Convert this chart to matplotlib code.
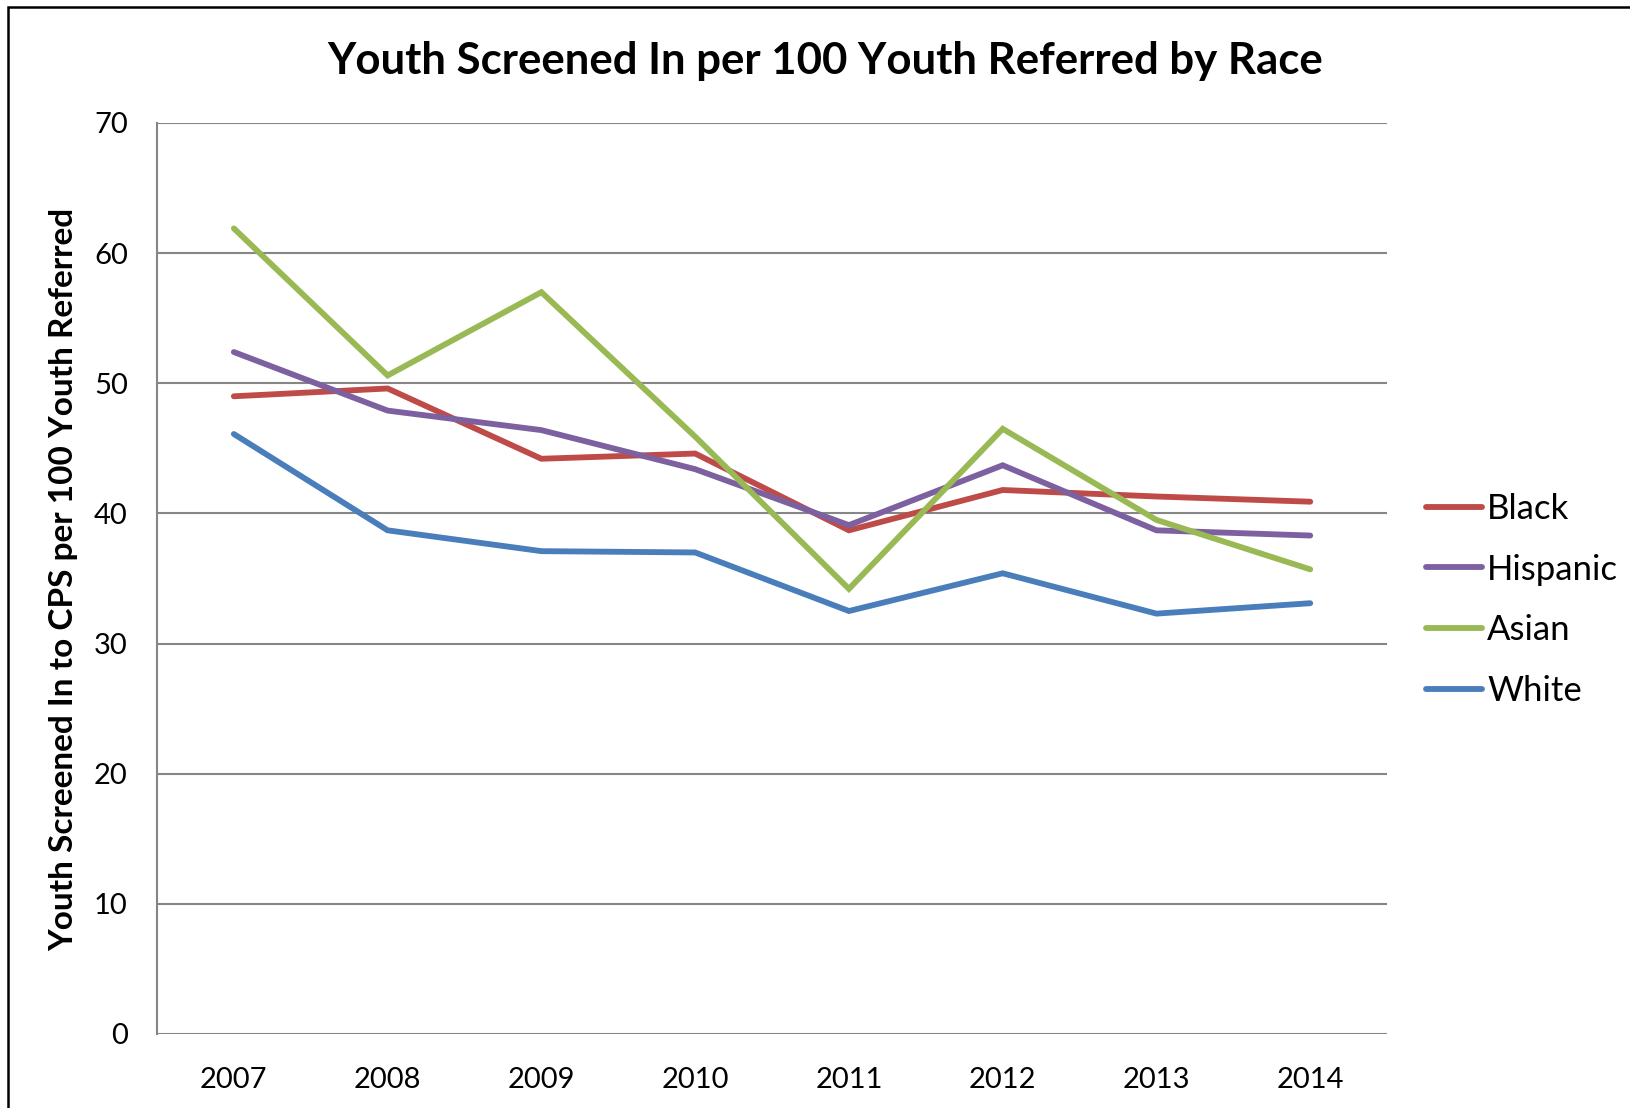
import matplotlib.pyplot as plt
from matplotlib.patches import Rectangle

years = ["2007", "2008", "2009", "2010", "2011", "2012", "2013", "2014"]
black = [49.0, 49.6, 44.2, 44.6, 38.7, 41.8, 41.3, 40.9]
hispanic = [52.4, 47.9, 46.4, 43.4, 39.1, 43.7, 38.7, 38.3]
asian = [61.9, 50.6, 57.0, 45.9, 34.2, 46.5, 39.5, 35.7]
white = [46.1, 38.7, 37.1, 37.0, 32.5, 35.4, 32.3, 33.1]

series = [("Black", black, "#BE4B48"),
          ("Hispanic", hispanic, "#7D60A0"),
          ("Asian", asian, "#98B954"),
          ("White", white, "#4A7EBB")]

plt.rcParams['font.family'] = ['Lato', 'DejaVu Sans']

fig = plt.figure(figsize=(16.3, 11.08), dpi=100)
ax = fig.add_axes([0.0963, 0.0668, 0.7547, 0.8222])

x = range(len(years))
for name, vals, col in series:
    ax.plot(x, vals, color=col, lw=4.2, label=name, solid_capstyle='round',
            solid_joinstyle='miter')

ax.set_ylim(0, 70)
ax.set_yticks(range(0, 71, 10))
ax.set_xlim(-0.5, len(years) - 0.5)
ax.set_xticks(list(x))
ax.set_xticklabels(years)
ax.yaxis.grid(True, color="#868686", lw=1.5)
ax.set_axisbelow(True)
for s in ["top", "right", "bottom"]:
    ax.spines[s].set_visible(False)
ax.spines["left"].set_color("#868686")
ax.spines["left"].set_linewidth(1.5)
ax.tick_params(axis='both', length=0, labelsize=21, colors='black')
ax.tick_params(axis='y', pad=21)
ax.tick_params(axis='x', pad=23.5)

fig.text(64 / 1630, 0.477, "Youth Screened In to CPS per 100 Youth Referred",
         fontsize=24, fontweight='bold', rotation=90, ha='center', va='center')
fig.text(0.506, 0.945, "Youth Screened In per 100 Youth Referred by Race",
         fontsize=31.5, fontweight='bold', ha='center', va='center')

ax.legend(loc='center left', bbox_to_anchor=(0.875, 0.4585),
          bbox_transform=fig.transFigure, frameon=False, borderpad=0,
          borderaxespad=0, fontsize=25, handlelength=1.6, handletextpad=0.15,
          labelspacing=0.83)

# outer chart border (cropped on the right and bottom)
fig.patches.append(Rectangle((8 / 1630, -0.1), 1.2, 1.1 - 7 / 1108,
                             transform=fig.transFigure, fill=False,
                             ec='black', lw=1.8))

plt.savefig("out.png", dpi=100)
